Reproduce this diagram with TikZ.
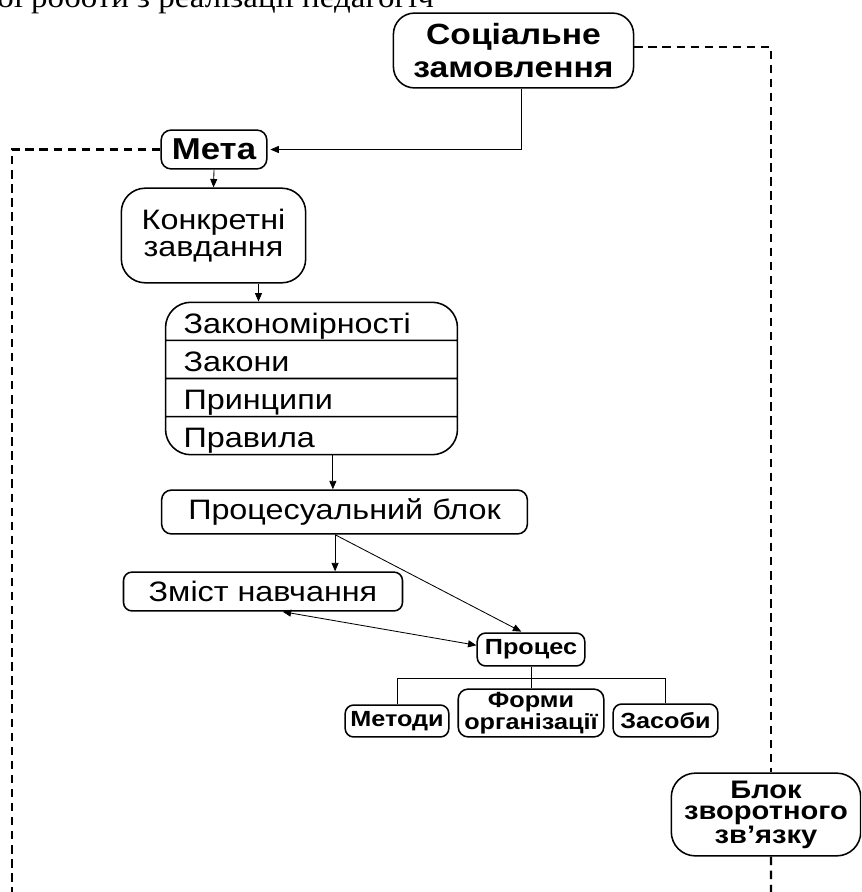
\documentclass[tikz,border=0pt]{standalone}
\usepackage{fontspec}
\setmainfont{Liberation Sans}[FakeStretch=1.15]
\newfontfamily\pageserif{Liberation Serif}[FakeStretch=1.1]
\usetikzlibrary{arrows.meta,shapes.multipart}

\newcommand\rowstrut{\rule[-4.5pt]{0pt}{26pt}}

\begin{document}
\begin{tikzpicture}[x=0.025cm,y=-0.025cm,
    box/.style={draw,line width=1.1pt,rounded corners=#1,align=center,inner sep=0pt},
    box/.default=6pt,
    txt/.style={font=\fontsize{20}{19}\selectfont},
    hd/.style={font=\bfseries\fontsize{20.8}{23.4}\selectfont},
    sm/.style={font=\bfseries\fontsize{15.6}{12.5}\selectfont},
    >={Triangle[length=6pt,width=5pt]},
    fb/.style={line width=1.6pt,dash pattern=on 6pt off 4pt}]
      \clip (0,0) rectangle (861,892);
      \draw
        (513.5,50.5) node[box=15pt,minimum width=170.8pt,minimum height=53.2pt,hd] (soc){Соціальне\\замовлення}
        (214,149.5) node[box=7pt,minimum width=75.1pt,minimum height=27.6pt,font=\bfseries\fontsize{21.5}{24}\selectfont] (meta){Мета}
        (213.5,235.5) node[box=17pt,minimum width=131.1pt,minimum height=67.3pt,txt] (task){Конкретні\\завдання}
        (311.5,378.5) node[rectangle split,rectangle split parts=4,draw,line width=1.1pt,rounded corners=18pt,
            text width=182pt,align=left,inner xsep=12.8pt,inner ysep=0pt,txt] (laws)
            {\rowstrut Закономірності\nodepart{two}\rowstrut Закони\nodepart{three}\rowstrut Принципи\nodepart{four}\rowstrut Правила}
        (344.5,512) node[box=7pt,minimum width=260.1pt,minimum height=31.2pt,txt] (pblock){Процесуальний блок}
        (263,591.5) node[box=6pt,minimum width=198.4pt,minimum height=27.6pt,txt] (zmist){Зміст навчання}
        (531,649.5) node[box=6pt,minimum width=76.5pt,minimum height=23.4pt,sm] (process){Процес}
        (397,721) node[box=6pt,minimum width=73.7pt,minimum height=22.7pt,sm] (metody){Методи}
        (531,713) node[box=7pt,minimum width=103.5pt,minimum height=34pt,sm] (formy){Форми\\організації}
        (665.5,720.5) node[box=6pt,minimum width=74.4pt,minimum height=23.4pt,sm] (zasoby){Засоби}
        (766,814.5) node[box=17pt,minimum width=134.7pt,minimum height=58.8pt,font=\bfseries\fontsize{18}{15}\selectfont] (blok){Блок\\зворотного\\зв’язку};
      \node[anchor=base west,inner sep=0pt,font=\pageserif\fontsize{21.3}{26}\selectfont] (pageline) at (-3,8) {ої роботи з реалізації педагогіч};

      \coordinate (endL) at (12.3,892);
      \coordinate (endR) at (771,892);

      \begin{scope}[->,line width=0.6pt]
        \draw[shorten >=2pt] ([xshift=5.8pt]soc.south) |- (meta.east);
        \draw (meta.south) -- (task.north);
        \draw ([xshift=32pt]task.south) -- ([xshift=32pt]task.south |- laws.north);
        \draw ([xshift=15.2pt]laws.south) -- ([xshift=15.2pt]laws.south |- pblock.north);
        \draw ([xshift=-6.7pt]pblock.south) -- ([xshift=-6.7pt]pblock.south |- zmist.north);
        \draw[shorten >=1pt] ([xshift=-6.7pt]pblock.south) -- ([xshift=-6pt]process.north);
        \draw[<->] ([xshift=14pt]zmist.south) -- ([yshift=3pt]process.west);
      \end{scope}

      % tree under the process
      \draw[line width=0.6pt] (process.south) -- ++(0,12) coordinate (fork);
      \draw[line width=0.6pt] (metody.north) |- (fork) -| (zasoby.north);
      \draw[line width=0.6pt] (fork) -- (formy.north);

      % feedback loop
      \draw[fb] (meta.west) -| (endL);
      \draw[fb] ([yshift=2.7pt]soc.east) -| ([xshift=3.5pt]blok.north);
      \draw[fb] ([xshift=3.5pt]blok.south) -- (endR);
    \end{tikzpicture}
\end{document}
